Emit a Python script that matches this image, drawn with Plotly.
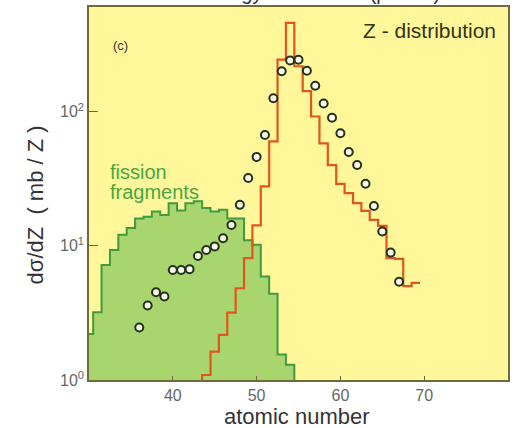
import plotly.graph_objects as go

# ---- data ----
green_z = list(range(30, 55))
green_v = [2.2, 3.2, 7.2, 9.3, 12.1, 13.6, 16.0, 16.5, 18.0, 17.0, 20.8, 18.3,
           20.8, 21.5, 19.1, 18.0, 18.6, 16.0, 16.0, 11.0, 10.2, 5.9, 4.4, 1.55, 1.3]

red_z = list(range(44, 70))
red_v = [1.09, 1.63, 2.17, 3.18, 4.83, 8.1, 14.2, 27.7, 60, 244, 459, 218, 142,
         92, 58, 40, 29, 24.7, 20.8, 18.2, 15.6, 14.1, 8.1, 8.0, 5.0, 5.3]

exp_z = list(range(36, 68))
exp_v = [2.46, 3.59, 4.51, 4.19, 6.6, 6.6, 6.7, 8.4, 9.3, 9.9, 11.4, 14.3, 20.2,
         32, 46, 67, 126, 200, 241, 244, 202, 156, 115, 90, 69, 50, 40, 29,
         19.8, 12.8, 8.9, 5.4]

x_ticks = [40, 50, 60, 70]
y_ticks = [1, 10, 100]
y_ticktext = ["10<sup>0</sup>", "10<sup>1</sup>", "10<sup>2</sup>"]


def step_xy(z, v, close_left=True, close_right=True, floor=0.5):
    xs, ys = [], []
    if close_left:
        xs.append(z[0] - 0.5)
        ys.append(floor)
    for zi, vi in zip(z, v):
        xs += [zi - 0.5, zi + 0.5]
        ys += [vi, vi]
    if close_right:
        xs.append(z[-1] + 0.5)
        ys.append(floor)
    return xs, ys


gx, gy = step_xy(green_z, green_v)
rx, ry = step_xy(red_z, red_v, close_left=True, close_right=False)

fig = go.Figure()
fig.add_trace(go.Scatter(x=gx, y=gy, mode="lines", fill="toself",
                         fillcolor="#a9d56f", line=dict(color="#3f9b3f", width=2),
                         hoverinfo="skip", showlegend=False))
fig.add_trace(go.Scatter(x=rx, y=ry, mode="lines",
                         line=dict(color="#e0561e", width=2.2),
                         hoverinfo="skip", showlegend=False))
fig.add_trace(go.Scatter(x=exp_z, y=exp_v, mode="markers",
                         marker=dict(symbol="circle", size=8, color="#fbfbe8",
                                     line=dict(color="#22331a", width=2)),
                         showlegend=False))

font = "Liberation Sans, Arial, sans-serif"
fig.update_layout(
    width=512, height=428,
    margin=dict(l=89, r=2, t=7, b=48),
    paper_bgcolor="white", plot_bgcolor="#fff799",
    font=dict(family=font, color="#333"),
    showlegend=False,
)
fig.update_xaxes(range=[30, 80], tickvals=x_ticks, ticks="inside", ticklen=4,
                 tickcolor="#6e6a3a", showgrid=False, zeroline=False,
                 showline=True, linecolor="#6e6a3a", linewidth=1.5, mirror=True,
                 tickfont=dict(size=16, color="#666"))
fig.update_yaxes(type="log", range=[0, 2.78], tickvals=y_ticks, ticktext=y_ticktext,
                 ticks="inside", ticklen=9,
                 tickcolor="#6e6a3a", showgrid=False, zeroline=False,
                 showline=True, linecolor="#6e6a3a", linewidth=1.5, mirror=True,
                 tickfont=dict(size=16, color="#666"))

anns = [
    dict(text="Z - distribution", x=0.976, y=0.938, xanchor="right", yanchor="middle",
         font=dict(size=21, color="#333311")),
    dict(text="(c)", x=0.074, y=0.898, xanchor="center", yanchor="middle",
         font=dict(size=13, color="#333")),
    dict(text="fission", x=0.045, y=0.558, xanchor="left", yanchor="middle",
         font=dict(size=20, color="#45a845")),
    dict(text="fragments", x=0.045, y=0.504, xanchor="left", yanchor="middle",
         font=dict(size=20, color="#45a845")),
    dict(text="atomic number", x=0.496, y=-0.099, xanchor="center", yanchor="middle",
         font=dict(size=22, color="#333")),
    dict(text="dσ/dZ  ( mb / Z )", x=-0.128, y=0.469, xanchor="center", yanchor="middle",
         textangle=-90, font=dict(size=22, color="#333")),
    dict(text="Energy = 1 A GeV  (p + Au)", x=0.55, y=1.038, xanchor="center",
         yanchor="middle", font=dict(size=20, color="#333")),
]
for a in anns:
    a.update(xref="paper", yref="paper", showarrow=False)
fig.update_layout(annotations=anns)

fig.write_html("out.html", config={"displayModeBar": False},
               post_script="document.body.style.margin='0';document.body.style.overflow='hidden';")
